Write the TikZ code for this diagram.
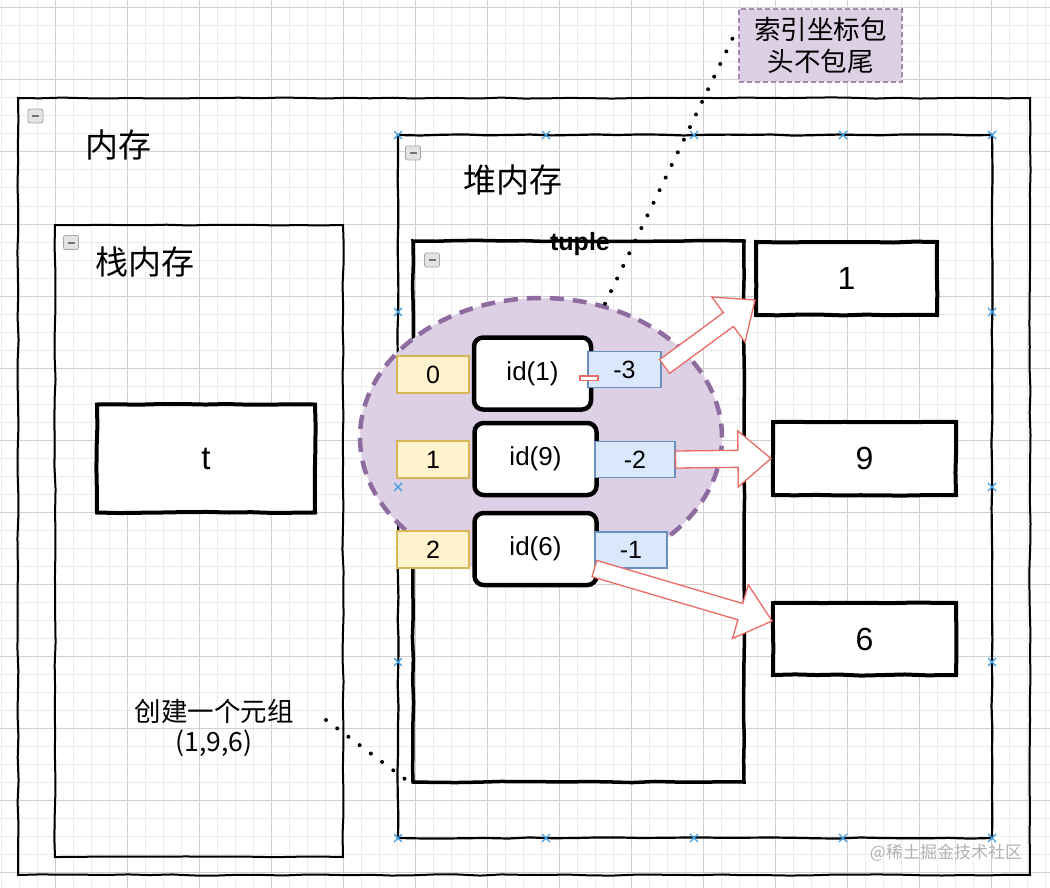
\documentclass[tikz,border=0pt]{standalone}
\usepackage{fontspec}
\setmainfont{Liberation Sans}
\newfontfamily\cjk{Noto Sans CJK SC}
\usetikzlibrary{shapes.geometric,calc,decorations.pathmorphing}
\definecolor{gridlo}{HTML}{EBEBEB}
\definecolor{gridhi}{HTML}{D0D0D0}
\definecolor{lilacfill}{HTML}{DDD0E4}
\definecolor{lilacline}{HTML}{8E6CA0}
\definecolor{sandfill}{HTML}{FFF2CC}
\definecolor{sandline}{HTML}{D6B656}
\definecolor{skyfill}{HTML}{DAE8FC}
\definecolor{skyline}{HTML}{6C8EBF}
\definecolor{arrowred}{HTML}{EA6B66}
\definecolor{markblue}{HTML}{3D9EE3}
\newcommand{\flexarrow}[2]{%
  \coordinate (fb) at ($#2!33pt!#1$);
  \filldraw[flexline] ($#1!8.5pt!90:#2$) -- ($(fb)!8.5pt!90:#2$) -- ($(fb)!28pt!90:#2$) -- #2
    -- ($(fb)!28pt!-90:#2$) -- ($(fb)!8.5pt!-90:#2$) -- ($#1!8.5pt!-90:#2$) -- cycle;}
\begin{document}
\begin{tikzpicture}[x=1pt,y=-1pt]
\tikzstyle{every node}+=[inner sep=0pt]
\tikzstyle{sketch}=[decorate,decoration={random steps,segment length=22pt,amplitude=0.6pt}]
\tikzstyle{container}=[draw=black,line width=2pt,sketch]
\tikzstyle{valbox}=[draw=black,fill=white,line width=4pt,sketch,font=\fontsize{32}{36}\selectfont]
\tikzstyle{idbox}=[draw=black,fill=white,line width=4.5pt,rounded corners=9pt,minimum height=72pt,font=\fontsize{26}{30}\selectfont]
\tikzstyle{posbox}=[draw=sandline,fill=sandfill,line width=1.2pt,minimum width=72pt,minimum height=37pt,font=\fontsize{25}{30}\selectfont]
\tikzstyle{negbox}=[draw=skyline,fill=skyfill,line width=1.2pt,minimum height=36pt,font=\fontsize{25}{30}\selectfont]
\tikzstyle{foldicon}=[draw=gray!70,fill=gray!22,line width=0.8pt,rounded corners=2pt,minimum width=15pt,minimum height=14pt]
\tikzstyle{title}=[font=\cjk\fontsize{33}{38}\selectfont]
\tikzstyle{flexline}=[draw=arrowred,fill=white,line width=1.3pt,line join=miter]
\tikzstyle{dots}=[line width=4pt,line cap=round,dash pattern=on 0pt off 14pt]
\tikzstyle{xmark}=[draw=markblue,line width=1.3pt]
\useasboundingbox (0,0) rectangle (1050,888);
\fill[white] (0,0) rectangle (1050,888);
\foreach \x in {1,19,...,1050} \draw[gridlo,line width=1pt] (\x,0) -- (\x,888);
\foreach \y in {8,26,...,888} \draw[gridlo,line width=1pt] (0,\y) -- (1050,\y);
\foreach \x in {55,127,...,1050} \draw[gridhi,line width=1pt] (\x,0) -- (\x,888);
\foreach \y in {8,80,...,888} \draw[gridhi,line width=1pt] (0,\y) -- (1050,\y);
\node (mem) [container,minimum width=1012pt,minimum height=777pt] at (524,486.5) {};
\node (memicon) [foldicon] at (35.5,116) {\color{gray!90!black}\rule{7pt}{2pt}};
\node (memlabel) [title] at (118,145) {内存};
\node (stack) [container,minimum width=288pt,minimum height=632pt] at (199,541) {};
\node (stackicon) [foldicon] at (71,242.5) {\color{gray!90!black}\rule{7pt}{2pt}};
\node (stacklabel) [title] at (145,262) {栈内存};
\node (t) [valbox,minimum width=218pt,minimum height=108pt,font=\fontsize{33}{36}\selectfont] at (206,458.5) {t};
\node (heap) [container,line width=2.2pt,minimum width=594pt,minimum height=703pt] at (695,486.5) {};
\node (heapicon) [foldicon] at (413,153) {\color{gray!90!black}\rule{7pt}{2pt}};
\node (heaplabel) [title] at (513,180) {堆内存};
\node (tuple) [container,line width=3.5pt,minimum width=331pt,minimum height=541pt] at (578.5,511.5) {};
\node (tupleicon) [foldicon] at (432,260) {\color{gray!90!black}\rule{7pt}{2pt}};
\node (tuplelabel) [font=\bfseries\fontsize{25}{28}\selectfont] at (580,244) {tuple};
\node (sel) [ellipse,draw=lilacline,fill=lilacfill,line width=4.5pt,dash pattern=on 14pt off 9pt,minimum width=362pt,minimum height=279pt] at (541,437.5) {};
\foreach \px/\py in {398/135,546/135,694/135,843/135,992/135,398/838,546/838,694/838,843/838,992/838,398/312,398/487,398/662,992/312,992/487,992/662}
  \draw[xmark] (\px-4,\py-4) -- (\px+4,\py+4) (\px-4,\py+4) -- (\px+4,\py-4);
\node (p0) [posbox] at (433,374.5) {0};
\node (p1) [posbox] at (433,459.5) {1};
\node (p2) [posbox] at (433,549.5) {2};
\node (id1) [idbox,minimum width=117pt] at (532.5,373.5) {id(1)};
\node (id9) [idbox,minimum width=122pt] at (535.5,459) {id(9)};
\node (id6) [idbox,minimum width=122pt] at (535.5,549) {id(6)};
\node (m3) [negbox,minimum width=73pt] at (624.5,369.5) {-3};
\node (m2) [negbox,minimum width=80pt] at (635,459.5) {-2};
\node (m1) [negbox,minimum width=72pt] at (631,550) {-1};
\node (v1) [valbox,minimum width=181pt,minimum height=73pt] at (846.5,278.5) {1};
\node (v9) [valbox,minimum width=183pt,minimum height=73pt] at (864.5,458.5) {9};
\node (v6) [valbox,minimum width=183pt,minimum height=72pt] at (864.5,639) {6};
\draw[flexline] (580,376) rectangle (598,380.5);
\coordinate (a1) at ($(m3.east)+(3,-3)$);
\coordinate (b1) at ($(v1.south west)+(1,-17)$);
\flexarrow{(a1)}{(b1)}
\flexarrow{(m2.east)}{(v9.west)}
\coordinate (b6) at ($(v6.west)+(1,-18)$);
\flexarrow{(m1.south west)}{(b6)}
\node (note) [draw=lilacline!80,fill=lilacfill,line width=1.2pt,dash pattern=on 5pt off 3pt,minimum width=163pt,minimum height=73pt,align=center,font=\cjk\fontsize{26.5}{32}\selectfont] at (820.5,45.5) {索引坐标包\\头不包尾};
\draw[dots] (sel.north) ++(64,8) -- ($(note.west)+(-3,-13)$);
\node (make) [align=center,font=\cjk\fontsize{26.5}{30}\selectfont] at (214,728) {创建一个元组\\(1,9,6)};
\coordinate (makeend) at (326,720);
\draw[dots] (makeend) -- (tuple.south west);
\node (mark) [text=gray!60,font=\cjk\fontsize{17}{20}\selectfont] at (946,853) {@稀土掘金技术社区};
\end{tikzpicture}
\end{document}
